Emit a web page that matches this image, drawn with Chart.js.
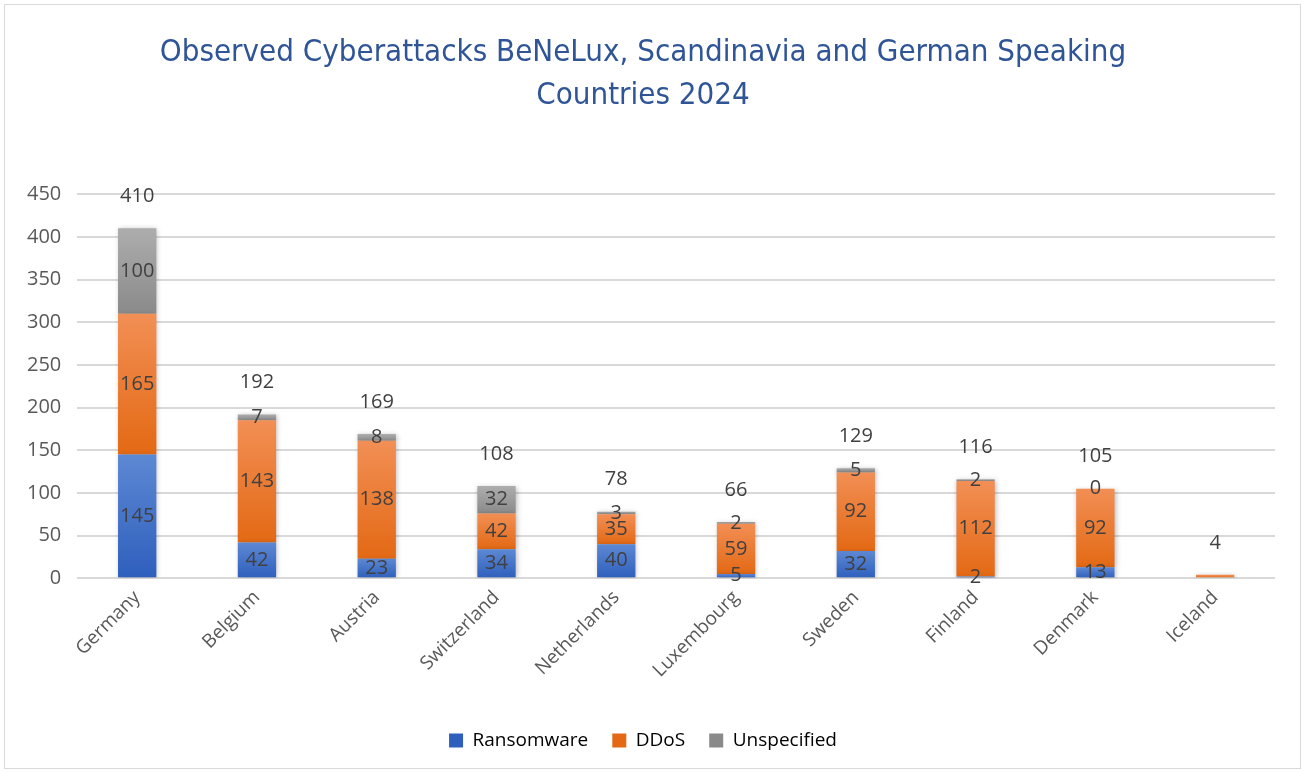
<!DOCTYPE html>
<html>
<head>
<meta charset="utf-8">
<script src="https://cdn.jsdelivr.net/npm/chart.js@4.4.1/dist/chart.umd.min.js"></script>
<style>
  html, body { margin: 0; padding: 0; background: #fff; }
  #wrap { position: absolute; left: 4px; top: 4px; width: 1295px; height: 763px; border: 1px solid #d9d9d9; }
</style>
</head>
<body>
<div id="wrap"><canvas id="attackChart"></canvas></div>
<script>
var countries = ['Germany', 'Belgium', 'Austria', 'Switzerland', 'Netherlands', 'Luxembourg', 'Sweden', 'Finland', 'Denmark', 'Iceland'];
var ransomware = [145, 42, 23, 34, 40, 5, 32, 2, 13, null];
var ddos = [165, 143, 138, 42, 35, 59, 92, 112, 92, 4];
var unspecified = [100, 7, 8, 32, 3, 2, 5, 2, 0, null];
var yTicks = [0, 50, 100, 150, 200, 250, 300, 350, 400, 450];

var series = [ransomware, ddos, unspecified];
var shades = [
    ['#5d88d3', '#2e5fbd'],
    ['#f28f55', '#e36914'],
    ['#adadad', '#8a8a8a']
];

function total(i) {
    return (ransomware[i] || 0) + (ddos[i] || 0) + (unspecified[i] || 0);
}

// gradient per segment, light at top, dark at bottom
function segmentFill(ctx) {
    var chart = ctx.chart;
    var y = chart.scales.y;
    var d = ctx.datasetIndex, i = ctx.dataIndex;
    if (!y || !chart.chartArea) return shades[d][1];
    var start = 0;
    for (var k = 0; k < d; k++) start += series[k][i] || 0;
    var end = start + (series[d][i] || 0);
    var top = y.getPixelForValue(end), bottom = y.getPixelForValue(start);
    if (bottom - top < 1) return shades[d][1];
    var g = chart.ctx.createLinearGradient(0, top, 0, bottom);
    g.addColorStop(0, shades[d][0]);
    g.addColorStop(1, shades[d][1]);
    return g;
}

var labelPlugin = {
    id: 'labelPlugin',
    beforeDatasetsDraw: function(chart) {
        var c = chart.ctx;
        c.save();
        c.shadowColor = 'rgba(0,0,0,0.28)';
        c.shadowBlur = 5;
        c.shadowOffsetX = 1;
        c.shadowOffsetY = 1;
    },
    afterDatasetsDraw: function(chart) {
        var c = chart.ctx;
        c.restore();
        c.save();
        c.font = '20px "Open Sans", "Liberation Sans", sans-serif';
        c.fillStyle = '#404040';
        c.textAlign = 'center';
        c.textBaseline = 'middle';
        chart.data.datasets.forEach(function(ds, d) {
            var meta = chart.getDatasetMeta(d);
            meta.data.forEach(function(bar, i) {
                var v = ds.data[i];
                if (v === null || v === total(i)) return;
                c.fillText(String(v), bar.x, (bar.y + bar.base) / 2);
            });
        });
        var y = chart.scales.y;
        countries.forEach(function(name, i) {
            var x = chart.getDatasetMeta(1).data[i].x;
            c.fillText(String(total(i)), x, y.getPixelForValue(total(i)) - 32);
        });
        c.restore();
    }
};

var ctx = document.getElementById('attackChart').getContext('2d');
var attackChart = new Chart(ctx, {
    type: 'bar',
    data: {
        labels: countries,
        datasets: [
            { label: 'Ransomware', data: ransomware, backgroundColor: segmentFill },
            { label: 'DDoS', data: ddos, backgroundColor: segmentFill },
            { label: 'Unspecified', data: unspecified, backgroundColor: segmentFill }
        ]
    },
    options: {
        responsive: true,
        maintainAspectRatio: false,
        animation: false,
        layout: { padding: { left: 6, right: 25, top: 10, bottom: 8 } },
        datasets: {
            bar: { barPercentage: 0.64, categoryPercentage: 0.5 }
        },
        plugins: {
            title: {
                display: true,
                text: ['Observed Cyberattacks BeNeLux, Scandinavia and German Speaking', 'Countries 2024'],
                color: '#2f5597',
                font: { family: '"DejaVu Sans Condensed", "Liberation Sans Narrow", sans-serif', size: 31, weight: 'normal', lineHeight: 1.39 },
                padding: { top: 16, bottom: 77 }
            },
            legend: {
                position: 'bottom',
                labels: {
                    color: '#595959',
                    font: { family: '"Open Sans", "Liberation Sans", sans-serif', size: 19 },
                    boxWidth: 14,
                    boxHeight: 14,
                    padding: 24,
                    generateLabels: function(chart) {
                        return chart.data.datasets.map(function(ds, d) {
                            return { text: ds.label, fillStyle: shades[d][1], strokeStyle: shades[d][1], lineWidth: 0, datasetIndex: d };
                        });
                    }
                }
            },
            tooltip: { enabled: false }
        },
        scales: {
            x: {
                stacked: true,
                grid: { display: false },
                border: { display: false },
                afterFit: function(axis) { axis.height += 25; },
                ticks: {
                    color: '#595959',
                    font: { family: '"Open Sans", "Liberation Sans", sans-serif', size: 19 },
                    maxRotation: 45,
                    minRotation: 45,
                    padding: 0
                }
            },
            y: {
                stacked: true,
                min: 0,
                max: 450,
                afterBuildTicks: function(axis) {
                    axis.ticks = yTicks.map(function(v) { return { value: v }; });
                },
                grid: { color: '#d9d9d9', lineWidth: 2, drawTicks: false },
                border: { display: false },
                ticks: {
                    color: '#595959',
                    font: { family: '"Open Sans", "Liberation Sans", sans-serif', size: 20 },
                    padding: 16
                }
            }
        }
    },
    plugins: [labelPlugin]
});
</script>
</body>
</html>
